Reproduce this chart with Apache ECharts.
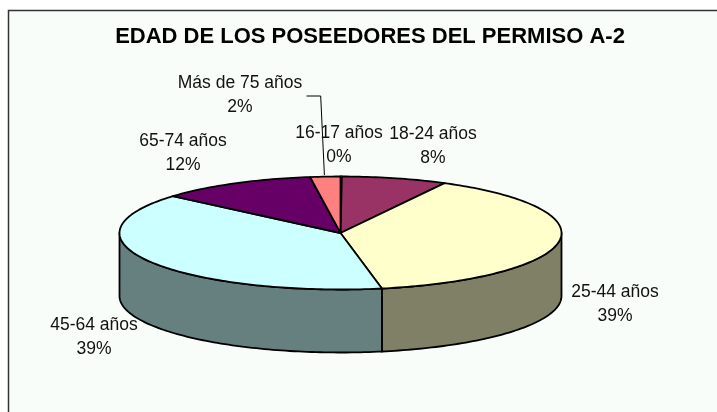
<!DOCTYPE html>
<html>
<head>
<meta charset="utf-8">
<style>html,body{margin:0;padding:0;background:#fff}#c{width:717px;height:412px}</style>
<script src="https://cdn.jsdelivr.net/npm/echarts@6/dist/echarts.min.js"></script>
</head>
<body>
<div id="c"></div>
<script>
const categories = ['16-17 años', '18-24 años', '25-44 años', '45-64 años', '65-74 años', 'Más de 75 años'];
const shares = [0.1, 7.7, 39.2, 39.3, 11.5, 2.2];
const topColors = ['#CC99FF', '#993366', '#FFFFCC', '#CCFFFF', '#660066', '#FF8080'];
const sideColors = ['#664D80', '#4D1A33', '#808066', '#668080', '#330033', '#804040'];
const labelCenters = [[339, 145.5], [433, 146], [615, 304.5], [94, 337.5], [183, 153], [240, 95]];
const leader = [[306.5, 96], [320.7, 96], [324.4, 175]];
const pie = { cx: 340.5, cy: 233, rx: 221, ry: 56.5, depth: 63 };
const total = shares.reduce((a, b) => a + b, 0);
const pt = (t, dy) => [pie.cx + pie.rx * Math.sin(t), pie.cy + (dy || 0) - pie.ry * Math.cos(t)];
const arc = (a, b, dy) => {
  const n = Math.max(2, Math.ceil(Math.abs(b - a) / 0.02));
  const out = [];
  for (let i = 0; i <= n; i++) out.push(pt(a + (b - a) * i / n, dy));
  return out;
};
const chart = echarts.init(document.getElementById('c'));
chart.setOption({
  animation: false,
  backgroundColor: '#ffffff',
  title: {
    text: 'EDAD DE LOS POSEEDORES DEL PERMISO A-2',
    left: 365, top: 32, textAlign: 'center', textVerticalAlign: 'middle',
    textStyle: { fontFamily: 'Liberation Sans', fontWeight: 'bold', fontSize: 22, color: '#000' }
  },
  graphic: [{
    type: 'rect', z: -10, silent: true,
    shape: { x: 8.5, y: 10.5, width: 800, height: 500 },
    style: { fill: '#F8FDFA', stroke: '#333', lineWidth: 1.5 }
  }],
  series: [{
    type: 'custom',
    coordinateSystem: 'none',
    data: shares.map((v, i) => ({ value: v, name: categories[i] })),
    renderItem(params, api) {
      const i = params.dataIndex;
      const before = shares.slice(0, i).reduce((a, b) => a + b, 0);
      const a0 = before / total * 2 * Math.PI;
      const a1 = (before + api.value(0)) / total * 2 * Math.PI;
      const children = [];
      const w0 = Math.max(a0, Math.PI / 2), w1 = Math.min(a1, 3 * Math.PI / 2);
      if (w1 > w0) {
        children.push({
          type: 'polygon', z2: 1,
          shape: { points: arc(w0, w1, 0).concat(arc(w1, w0, pie.depth)) },
          style: { fill: sideColors[i], stroke: '#000', lineWidth: 1.8, lineJoin: 'round' }
        });
      }
      children.push({
        type: 'polygon', z2: 2,
        shape: { points: [[pie.cx, pie.cy]].concat(arc(a0, a1, 0)) },
        style: { fill: topColors[i], stroke: '#000', lineWidth: 1.8, lineJoin: 'round' }
      });
      if (i === categories.length - 1) {
        children.push({
          type: 'polyline', z2: 3,
          shape: { points: leader },
          style: { fill: null, stroke: '#000', lineWidth: 1 }
        });
      }
      children.push({
        type: 'text', z2: 4,
        x: labelCenters[i][0], y: labelCenters[i][1],
        style: {
          text: categories[i] + '\n' + Math.round(api.value(0) / total * 100) + '%',
          fontFamily: 'Liberation Sans', fontSize: 17.5, lineHeight: 24,
          fill: '#111', align: 'center', verticalAlign: 'middle'
        }
      });
      return { type: 'group', children };
    }
  }]
});
</script>
</body>
</html>
